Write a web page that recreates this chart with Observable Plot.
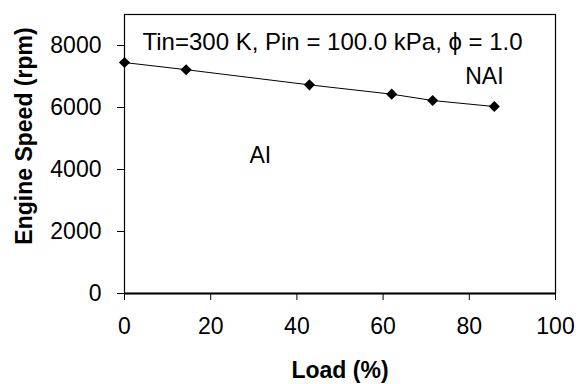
<!DOCTYPE html>
<html><head><meta charset="utf-8">
<script src="https://cdn.jsdelivr.net/npm/d3@7"></script>
<script src="https://cdn.jsdelivr.net/npm/@observablehq/plot@0.6"></script>
<style>
html,body{margin:0;padding:0;background:#fff;}
svg{font-family:"Liberation Sans",Arial,sans-serif;}
</style>
</head><body>
<div id="chart"></div>
<script>
const load = [0, 14.3, 42.9, 62.0, 71.5, 85.8];
const speed = [7450, 7220, 6730, 6430, 6225, 6030];
const xTicks = [0, 20, 40, 60, 80, 100];
const yTicks = [0, 2000, 4000, 6000, 8000];
const annotation = "Tin=300 K, Pin = 100.0 kPa, \u03d5 = 1.0";
const labels = [{x: 83.5, y: 6990, text: "NAI"}, {x: 31.5, y: 4460, text: "AI"}];

const data = load.map((l, i) => ({load: l, speed: speed[i]}));

const plot = Plot.plot({
  width: 579, height: 384,
  marginLeft: 124, marginRight: 24, marginTop: 14, marginBottom: 91,
  style: {fontFamily: '"Liberation Sans", Arial, sans-serif', fontSize: "23px", color: "black", background: "white"},
  x: {domain: [0, 100], ticks: xTicks, label: null},
  y: {domain: [0, 9000], ticks: yTicks, label: null},
  marks: [
    Plot.frame({stroke: "black", strokeWidth: 1.2}),
    Plot.ruleY([0], {stroke: "black", strokeWidth: 2}),
    Plot.axisX({ticks: xTicks, tickSize: 7, tickPadding: 17, fontSize: 23, tickFormat: d => String(d), label: null, stroke: "black"}),
    Plot.axisY({ticks: yTicks, tickSize: 7, tickPadding: 16, fontSize: 23, tickFormat: d => String(d), label: null, stroke: "black"}),
    Plot.line(data, {x: "load", y: "speed", stroke: "black", strokeWidth: 1}),
    Plot.dot(data, {x: "load", y: "speed", symbol: "diamond2", r: 5, fill: "black", stroke: "none"}),
    Plot.text([annotation], {frameAnchor: "top-left", dx: 18, dy: 18, text: d => d, fontSize: 24, textAnchor: "start", lineAnchor: "top", fill: "black"}),
    Plot.text(labels, {x: "x", y: "y", text: "text", fontSize: 23, fill: "black"}),
    Plot.text(["Load (%)"], {frameAnchor: "bottom", dy: 77, lineAnchor: "middle", text: d => d, fontSize: 23, fontWeight: "bold", fill: "black"}),
    Plot.text(["Engine Speed (rpm)"], {frameAnchor: "left", dx: -100, dy: -18, rotate: -90, textAnchor: "middle", lineAnchor: "middle", text: d => d, fontSize: 23, fontWeight: "bold", fill: "black"})
  ]
});
document.getElementById("chart").appendChild(plot);
</script>
</body></html>
